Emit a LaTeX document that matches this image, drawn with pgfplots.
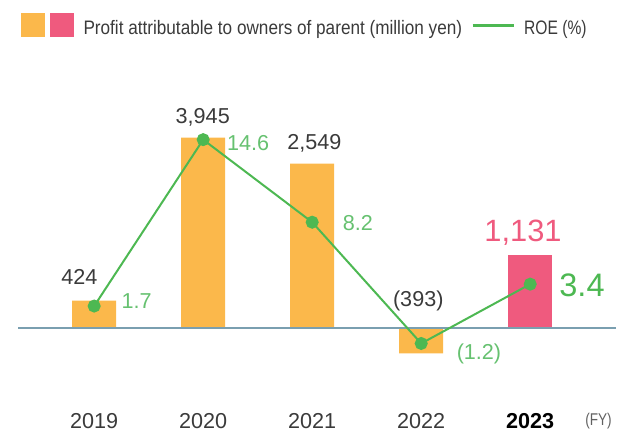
\documentclass[border=0pt]{standalone}
\usepackage{pgfplots}
\pgfplotsset{compat=1.18}
\usepackage{pgfplotstable}
\usepackage{fontspec}
\setmainfont{Liberation Sans}
\newfontfamily\condfont[FakeStretch=0.88]{Liberation Sans}
\newfontfamily\condfontb[FakeStretch=0.80]{Liberation Sans}
\definecolor{barorange}{HTML}{FBB84B}
\definecolor{barpink}{HTML}{EF5A7E}
\definecolor{roegreen}{HTML}{4DB852}
\definecolor{roetext}{HTML}{66C170}
\definecolor{textgray}{HTML}{3A3A3A}
\definecolor{basecol}{HTML}{7A9FB0}

% Profit attributable to owners of parent (million yen)
% (the 2020 bar is drawn shortened in the reference; its label reads 3,945)
\pgfplotstableread{
x profit
0 424
1 2950
2 2549
3 -393
}\profitdata
\pgfplotstableread{
x profit
4 1131
}\profitlast
% ROE (%)
\pgfplotstableread{
x roe
0 1.7
1 14.6
2 8.2
3 -1.2
4 3.4
}\roedata

\newcommand{\lbl}{\fontsize{21.6}{26}\selectfont}

\begin{document}
\begin{tikzpicture}[x=1pt,y=1pt]
\useasboundingbox (0,0) rectangle (621,435);
\pgfplotsset{
  common/.style={
    scale only axis, width=597.7pt, height=320pt,
    at={(18.3pt,55pt)}, anchor=south west,
    xmin=-0.696, xmax=4.787, clip=false,
    axis line style={draw=none}, tick style={draw=none},
    ytick=\empty,
  }
}
\begin{axis}[common,
  ymin=-806, ymax=4155,
  xtick={0,1,2,3,4},
  xticklabels={2019,2020,2021,2022,\textbf{\color{black}2023}},
  xticklabel style={font=\lbl, text=textgray, anchor=base, yshift=-49pt, inner sep=0pt},
]
\addplot[ybar, bar width=44pt, bar shift=0pt, fill=barorange, draw=none] table[x=x,y=profit]{\profitdata};
\addplot[ybar, bar width=44pt, bar shift=0pt, fill=barpink, draw=none] table[x=x,y=profit]{\profitlast};
\draw[basecol, line width=1.4pt] (axis cs:-0.696,0) -- (axis cs:4.787,0);
% value labels
\node[font=\lbl, text=textgray, anchor=base, inner sep=0pt] at (axis cs:-0.135,667) {424};
\node[font=\lbl, text=textgray, anchor=base, inner sep=0pt] at (axis cs:0.996,3174) {3,945};
\node[font=\lbl, text=textgray, anchor=base, inner sep=0pt] at (axis cs:2.021,2760) {2,549};
\node[font=\lbl, text=textgray, anchor=base, inner sep=0pt] at (axis cs:2.973,341) {(393)};
\node[font=\fontsize{30.8}{36}\selectfont, text=barpink, anchor=base, inner sep=0pt] at (axis cs:3.934,1338) {1,131};
\node[font=\lbl, text=roetext, anchor=base, inner sep=0pt] at (axis cs:0.390,295) {1.7};
\node[font=\lbl, text=roetext, anchor=base, inner sep=0pt] at (axis cs:1.413,2749) {14.6};
\node[font=\lbl, text=roetext, anchor=base, inner sep=0pt] at (axis cs:2.420,1519) {8.2};
\node[font=\lbl, text=roetext, anchor=base, inner sep=0pt] at (axis cs:3.530,-496) {(1.2)};
\node[font=\fontsize{32.5}{38}\selectfont, text=roegreen, anchor=base, inner sep=0pt] at (axis cs:4.475,496) {3.4};
\end{axis}
\begin{axis}[common,
  ymin=-4.031, ymax=20.775,
  xtick=\empty,
]
\addplot[roegreen, line width=2pt, mark=*, mark size=5.5pt, mark options={fill=roegreen, draw=none}] table[x=x,y=roe]{\roedata};
\end{axis}
% legend
\fill[barorange] (21,398.3) rectangle (45,422);
\fill[barpink] (50,398.3) rectangle (74,422);
\node[font=\condfont\fontsize{19.5}{23}\selectfont, text=textgray, anchor=base west, inner sep=0pt] at (83.3,400.7) {Profit attributable to owners of parent (million yen)};
\draw[roegreen, line width=2.5pt] (472.7,409.3) -- (514,409.3);
\node[font=\condfontb\fontsize{19.5}{23}\selectfont, text=textgray, anchor=base west, inner sep=0pt] at (524,400.7) {ROE (\%)};
\node[font=\condfontb\fontsize{17}{20}\selectfont, text=textgray!80, anchor=center, inner sep=0pt] at (598.5,14) {(FY)};
\end{tikzpicture}
\end{document}
